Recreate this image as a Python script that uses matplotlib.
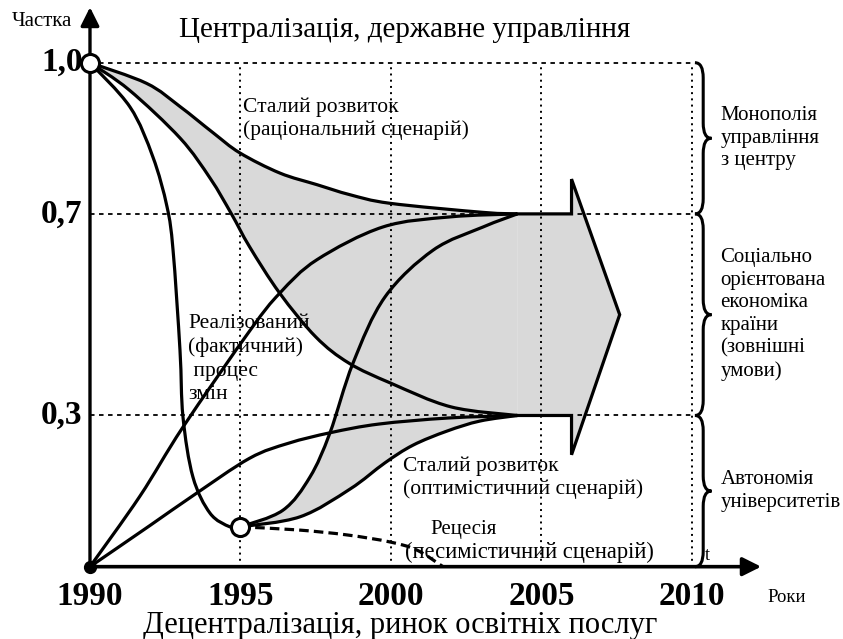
import matplotlib
matplotlib.use("Agg")
import matplotlib.pyplot as plt
from matplotlib.path import Path
from matplotlib.patches import PathPatch

# curves: (year, share)
rational_x = [1990, 1991.88, 1992.99, 1994.09, 1994.98, 1996.31, 1997.54, 1998.64, 1999.97, 2003.06, 2004.2]
rational_y = [1.0, 0.959, 0.913, 0.861, 0.821, 0.781, 0.758, 0.738, 0.721, 0.703, 0.70]

falling_x = [1990, 1991.3, 1993.0, 1994.0, 1994.7, 1995.3, 1996.3, 1997.5, 1998.6, 2000.0, 2002.0, 2004.2]
falling_y = [1.0, 0.946, 0.85, 0.77, 0.70, 0.635, 0.543, 0.456, 0.404, 0.364, 0.317, 0.30]

realized_x = [1990, 1991.33, 1992.09, 1992.56, 1992.76, 1992.99, 1993.09, 1993.42, 1993.99, 1994.65, 1995]
realized_y = [1.0, 0.912, 0.813, 0.714, 0.628, 0.430, 0.297, 0.178, 0.106, 0.079, 0.079]

steep_x = [1995, 1996.41, 1997.31, 1997.97, 1998.74, 1999.8, 2001.4, 2003.06, 2004.2]
steep_y = [0.079, 0.112, 0.178, 0.265, 0.404, 0.535, 0.628, 0.674, 0.70]

optim_x = [1995, 1996.98, 1998.64, 1999.8, 2000.73, 2001.86, 2002.96, 2004.2]
optim_y = [0.079, 0.099, 0.154, 0.206, 0.241, 0.269, 0.289, 0.30]

low_x = [1990, 1992, 1993.4, 1995.3, 1996.6, 1998, 1999.6, 2001.9, 2004.2]
low_y = [0, 0.082, 0.140, 0.215, 0.245, 0.266, 0.283, 0.295, 0.30]

high_x = [1990, 1991.66, 1993.09, 1995.32, 1996.31, 1997.54, 1999.73, 2001.96, 2004.2]
high_y = [0, 0.14, 0.277, 0.469, 0.543, 0.609, 0.674, 0.694, 0.70]

recess_x = [1995, 1996.88, 1998.54, 1999.97, 2000.86, 2001.73]
recess_y = [0.079, 0.073, 0.063, 0.049, 0.033, 0.0]

arrow_x = [2004.2, 2006, 2006, 2007.6, 2006, 2006, 2004.2]
arrow_y = [0.7, 0.7, 0.769, 0.5, 0.222, 0.3, 0.3]

levels = [1.0, 0.7, 0.3]
level_labels = ["1,0", "0,7", "0,3"]
years = [1990, 1995, 2000, 2005, 2010]

zones = [(1.0, 0.7, "Монополія\nуправління\nз центру"),
         (0.7, 0.3, "Соціально\nорієнтована\nекономіка\nкраїни\n(зовнішні\nумови)"),
         (0.3, 0.0, "Автономія\nуніверситетів")]

GRAY = "#d9d9d9"
SERIF = "Liberation Serif"


def smooth(xs, ys):
    # Catmull-Rom through the read points, as cubic bezier segments
    pts = list(zip(xs, ys))
    n = len(pts)
    verts, codes = [pts[0]], [Path.MOVETO]
    for i in range(n - 1):
        p0, p1, p2, p3 = pts[max(i - 1, 0)], pts[i], pts[i + 1], pts[min(i + 2, n - 1)]
        c1 = (p1[0] + (p2[0] - p0[0]) / 6, p1[1] + (p2[1] - p0[1]) / 6)
        c2 = (p2[0] - (p3[0] - p1[0]) / 6, p2[1] - (p3[1] - p1[1]) / 6)
        verts += [c1, c2, p2]
        codes += [Path.CURVE4] * 3
    return verts, codes


def band(ax, top_x, top_y, bot_x, bot_y):
    vt, ct = smooth(top_x, top_y)
    vb, cb = smooth(bot_x[::-1], bot_y[::-1])
    path = Path(vt + vb + [vt[0]], ct + [Path.LINETO] + cb[1:] + [Path.CLOSEPOLY])
    ax.add_patch(PathPatch(path, fc=GRAY, ec="none", zorder=1))


def curve(ax, xs, ys, **kw):
    v, c = smooth(xs, ys)
    ax.add_patch(PathPatch(Path(v, c), fc="none", ec="black", zorder=3, **kw))


def brace(ax, x, y0, y1, w=0.55, dy=0.03):
    q, ym = w / 2, (y0 + y1) / 2
    verts = [(x, y1), (x + q, y1), (x + q, y1 - dy), (x + q, ym + dy), (x + q, ym), (x + w, ym),
             (x + q, ym), (x + q, ym - dy), (x + q, y0 + dy), (x + q, y0), (x, y0)]
    codes = [Path.MOVETO, Path.CURVE3, Path.CURVE3, Path.LINETO, Path.CURVE3, Path.CURVE3,
             Path.CURVE3, Path.CURVE3, Path.LINETO, Path.CURVE3, Path.CURVE3]
    ax.add_patch(PathPatch(Path(verts, codes), fc="none", ec="black", lw=2.2, zorder=3))


fig = plt.figure(figsize=(8.43, 6.39), dpi=100)
ax = fig.add_axes([0, 0, 1, 1])
ax.set_xlim(1987.01, 2015.02)
ax.set_ylim(-0.1435, 1.1244)
ax.axis("off")

# shaded corridor + arrow
band(ax, rational_x, rational_y, falling_x, falling_y)
band(ax, steep_x, steep_y, optim_x, optim_y)
ax.fill(arrow_x, arrow_y, color=GRAY, lw=0, zorder=1)
ax.plot(arrow_x, arrow_y, color="black", lw=2.3, zorder=3, solid_joinstyle="miter")

# guide lines
for lv in levels:
    ax.plot([1990, 2010], [lv, lv], color="black", lw=1.3, ls=(0, (2.5, 2.5)), zorder=2)
for yr in years[1:]:
    ax.plot([yr, yr], [0, 1.0], color="black", lw=1.4, ls=(0, (1, 2.2)), zorder=2)

for xs, ys in [(rational_x, rational_y), (falling_x, falling_y), (realized_x, realized_y),
               (steep_x, steep_y), (optim_x, optim_y), (low_x, low_y), (high_x, high_y)]:
    curve(ax, xs, ys, lw=2.3)
curve(ax, recess_x, recess_y, lw=2.3, ls=(0, (3, 1.6)))

# axes with arrows
ax.annotate("", xy=(1990, 1.11), xytext=(1990, 0), zorder=4,
            arrowprops=dict(arrowstyle="-|>", lw=2.4, color="black", mutation_scale=28, shrinkA=0, shrinkB=0))
ax.annotate("", xy=(2012.3, 0), xytext=(1990, 0), zorder=4,
            arrowprops=dict(arrowstyle="-|>", lw=2.6, color="black", mutation_scale=28, shrinkA=0, shrinkB=0))

ax.plot([1990], [1.0], "o", ms=13, mfc="white", mec="black", mew=2.2, zorder=5)
ax.plot([1995], [0.079], "o", ms=13, mfc="white", mec="black", mew=2.2, zorder=5)
ax.plot([1990], [0], "o", ms=8.5, color="black", zorder=5)

for top, bot, _ in zones:
    brace(ax, 2010.1, bot, top)
for top, bot, label in zones:
    ax.text(2010.95, (top + bot) / 2, label, family=SERIF, fontsize=15, ha="left", va="center",
            linespacing=1.25)

# labels
for lv, lab in zip(levels, level_labels):
    ax.text(1989.75, lv, lab, family=SERIF, fontsize=24, fontweight="bold", ha="right", va="center")
for yr in years:
    ax.text(yr, -0.06, str(yr), family=SERIF, fontsize=24, fontweight="bold", ha="center", va="center")

ax.text(1988.4, 1.081, "Частка", family=SERIF, fontsize=15, ha="center", va="center")
ax.text(2000.47, 1.065, "Централізація, державне управління", family=SERIF, fontsize=21,
        ha="center", va="center")
ax.text(2000.3, -0.116, "Децентралізація, ринок освітніх послуг", family=SERIF, fontsize=22,
        ha="center", va="center")
ax.text(2012.52, -0.062, "Роки", family=SERIF, fontsize=13.5, ha="left", va="center")
ax.text(2010.5, 0.023, "t", family=SERIF, fontsize=13, ha="center", va="center")

ax.text(1995.08, 0.889, "Сталий розвиток\n(раціональний сценарій)", family=SERIF, fontsize=15.5,
        ha="left", va="center", linespacing=1.2)
ax.text(1993.26, 0.412, "Реалізований\n(фактичний)\n процес\nзмін", family=SERIF, fontsize=15.5,
        ha="left", va="center", linespacing=1.3)
ax.text(2000.4, 0.176, "Сталий розвиток\n(оптимістичний сценарій)", family=SERIF, fontsize=15.5,
        ha="left", va="center", linespacing=1.2)
ax.text(2001.3, 0.073, "Рецесія", family=SERIF, fontsize=15, ha="left", va="center")
ax.text(2000.47, 0.029, "(песимістичний сценарій)", family=SERIF, fontsize=16.3, ha="left", va="center")

fig.savefig("out.png", dpi=100)
